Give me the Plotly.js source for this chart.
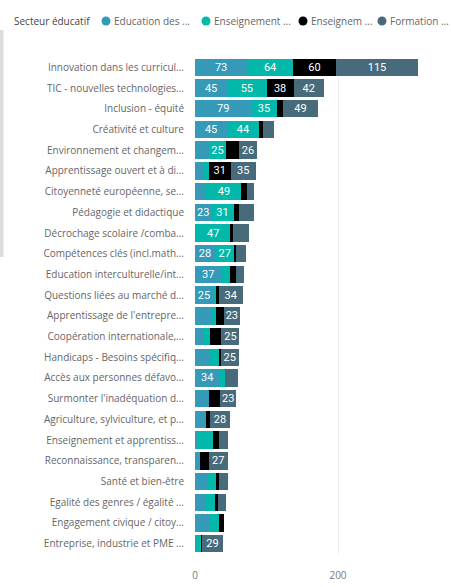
<!DOCTYPE html>
<html>
<head>
<meta charset="utf-8">
<script src="https://cdn.plot.ly/plotly-3.0.1.min.js"></script>
<style>html,body{margin:0;padding:0;background:#fff;}#chart{width:451px;height:587px;}</style>
</head>
<body>
<div id="chart"></div>
<script>
// ---- Data ----
const categories = [
  "Innovation dans les curricul...",
  "TIC - nouvelles technologies...",
  "Inclusion - équité",
  "Créativité et culture",
  "Environnement et changem...",
  "Apprentissage ouvert et à di...",
  "Citoyenneté européenne, se...",
  "Pédagogie et didactique",
  "Décrochage scolaire /comba...",
  "Compétences clés (incl.math...",
  "Education interculturelle/int...",
  "Questions liées au marché d...",
  "Apprentissage de l'entrepre...",
  "Coopération internationale,...",
  "Handicaps - Besoins spécifiq...",
  "Accès aux personnes défavo...",
  "Surmonter l'inadéquation d...",
  "Agriculture, sylviculture, et p...",
  "Enseignement et apprentiss...",
  "Reconnaissance, transparen...",
  "Santé et bien-être",
  "Egalité des genres / égalité ...",
  "Engagement civique / citoy...",
  "Entreprise, industrie et PME ..."
];
const educationAdultes      = [73, 45, 79, 45, 19, 13, 16, 23,  2, 28, 37, 25, 22, 12, 19, 34, 19, 15,  3,  7, 17, 15, 19,  2];
const enseignementScolaire  = [64, 55, 35, 44, 25,  6, 49, 31, 47, 27, 12,  5,  8,  9, 15,  8,  0,  0, 22,  0, 12, 13, 15,  6];
const enseignementSuperieur = [60, 38,  9,  6, 17, 31,  8,  8,  4,  2,  8,  3, 10, 16,  2,  0, 16,  6,  9, 12,  4,  4,  7,  2];
const formationPro          = [115, 42, 49, 15, 26, 35,  9, 21, 22, 15, 11, 34, 23, 25, 25, 18, 23, 28, 12, 27, 13, 12,  0, 29];
const seriesValues = [educationAdultes, enseignementScolaire, enseignementSuperieur, formationPro];
const seriesNames = ["Education des adultes", "Enseignement scolaire", "Enseignement supérieur", "Formation professionnelle"];
const legendLabels = ["Education des ...", "Enseignement ...", "Enseignem ...", "Formation ..."];
const legendTitle = "Secteur éducatif";
const xTicks = [0, 200];

// ---- Styles ----
const colors = ["#3599B8", "#01B8AA", "#000000", "#476B7B"];
const W = 451, H = 587;
const M = {l: 195, r: 21, t: 57, b: 33};
const pw = W - M.l - M.r, ph = H - M.t - M.b;
const pxToX = px => (px - M.l) / pw;
const pxToY = py => (H - M.b - py) / ph;
const labelMin = 23;

const traces = seriesValues.map((vals, i) => ({
  type: 'bar',
  orientation: 'h',
  name: seriesNames[i],
  y: categories,
  x: vals,
  marker: {color: colors[i], line: {width: 0}},
  text: vals.map(v => v >= labelMin ? String(v) : ''),
  textposition: 'inside',
  insidetextanchor: 'middle',
  textangle: 0,
  constraintext: 'none',
  textfont: {color: '#ffffff', size: 11, family: 'Roboto, "DejaVu Sans", sans-serif'},
  showlegend: false,
  hoverinfo: 'x+y+name'
}));

// Legend drawn with annotations + circle shapes
const legendY = 21;
const legendItems = [
  {cx: 106, tx: 112},
  {cx: 206, tx: 212},
  {cx: 303, tx: 309},
  {cx: 382, tx: 388}
];
const annotations = [{
  xref: 'paper', yref: 'paper', x: pxToX(12), y: pxToY(legendY),
  xanchor: 'left', yanchor: 'middle', showarrow: false, text: legendTitle,
  font: {size: 10, color: '#444', family: '"Open Sans", "Noto Sans", sans-serif'}
}];
const shapes = [{
  type: 'rect', xref: 'paper', yref: 'paper', layer: 'below',
  x0: pxToX(0), x1: pxToX(3.5), y0: pxToY(257), y1: pxToY(30),
  fillcolor: '#dcdcdc', line: {width: 0}
}];
legendLabels.forEach((lab, i) => {
  const it = legendItems[i];
  annotations.push({
    xref: 'paper', yref: 'paper', x: pxToX(it.tx), y: pxToY(legendY),
    xanchor: 'left', yanchor: 'middle', showarrow: false, text: lab,
    font: {size: 10, color: '#666', family: '"Open Sans", "Noto Sans", sans-serif'}
  });
  const r = 4.5;
  shapes.push({
    type: 'circle', xref: 'paper', yref: 'paper',
    x0: pxToX(it.cx - r), x1: pxToX(it.cx + r),
    y0: pxToY(legendY + r), y1: pxToY(legendY - r),
    fillcolor: colors[i], line: {width: 0}
  });
});

const layout = {
  width: W, height: H,
  margin: M,
  paper_bgcolor: '#ffffff',
  plot_bgcolor: '#ffffff',
  barmode: 'stack',
  bargap: 0.16,
  showlegend: false,
  font: {family: '"Open Sans", "Noto Sans", sans-serif', color: '#666'},
  xaxis: {
    range: [0, pw / 0.715],
    tickvals: xTicks,
    ticktext: xTicks.map(String),
    showgrid: true, gridcolor: '#eeeeee', gridwidth: 1,
    zeroline: false, showline: false,
    ticks: 'outside', ticklen: 12, tickcolor: 'rgba(0,0,0,0)',
    tickfont: {size: 10, color: '#777'},
    fixedrange: true
  },
  yaxis: {
    autorange: 'reversed',
    type: 'category',
    showgrid: false, zeroline: false, showline: false,
    ticks: 'outside', ticklen: 8, tickcolor: 'rgba(0,0,0,0)',
    tickfont: {size: 10, color: '#666'},
    fixedrange: true
  },
  annotations: annotations,
  shapes: shapes
};

Plotly.newPlot('chart', traces, layout, {displayModeBar: false, staticPlot: true});
</script>
</body>
</html>
